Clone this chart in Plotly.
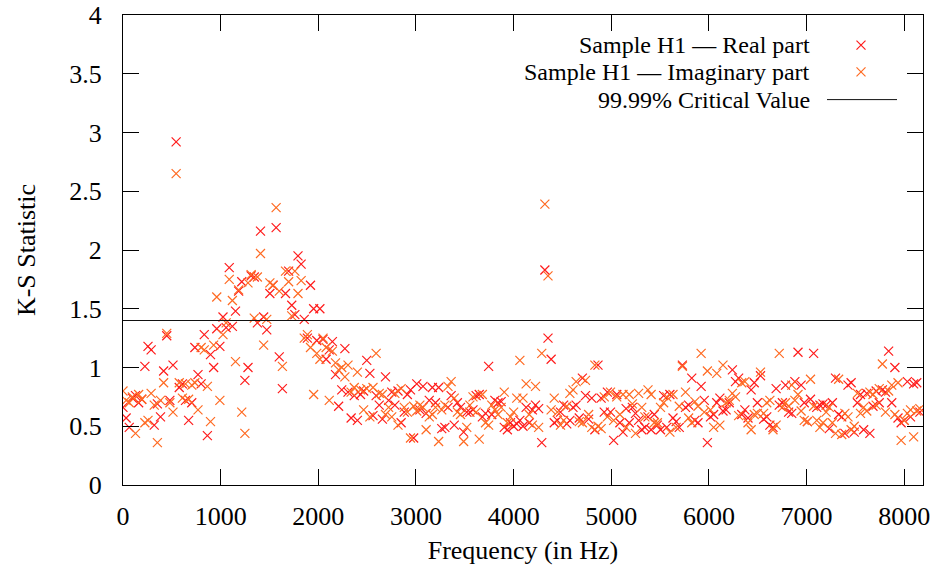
import plotly.graph_objects as go

# Frequency bins (Hz): 256 bins, 32 Hz apart
FREQ_STEP = 32
N_BINS = 256
freqs = [k * FREQ_STEP for k in range(N_BINS)]

real_part = [
    # 0 - 992 Hz
    0.66, 0.57, 0.49, 0.74, 0.76, 0.70, 0.73, 1.01, 1.18, 1.15, 0.51, 0.69, 0.58, 0.97, 1.27, 0.72,
    1.02, 2.92, 0.83, 0.86, 0.72, 0.55, 0.70, 1.17, 0.94, 0.86, 1.28, 0.42, 1.11, 1.00, 1.33, 1.18,
    # 1024 - 2016 Hz
    1.43, 1.34, 1.85, 1.35, 1.48, 1.65, 1.73, 0.89, 1.00, 1.78, 1.77, 1.38, 2.16, 1.43, 1.32, 1.63,
    1.70, 2.19, 1.09, 0.82, 1.63, 1.82, 1.53, 1.45, 1.95, 1.88, 1.41, 1.25, 1.70, 1.50, 1.23, 1.50,
    # 2048 - 3040 Hz
    1.24, 1.07, 1.15, 1.22, 0.94, 0.67, 0.81, 1.16, 0.79, 0.57, 0.76, 0.55, 0.77, 0.80, 1.06, 0.95,
    0.59, 0.76, 0.68, 0.56, 0.92, 0.72, 0.79, 0.68, 0.80, 0.53, 0.62, 0.77, 0.81, 0.40, 0.86, 0.64,
    # 3072 - 4064 Hz
    0.84, 0.61, 0.72, 0.83, 0.70, 0.83, 0.48, 0.49, 0.66, 0.76, 0.51, 0.70, 0.66, 0.45, 0.62, 0.62,
    0.64, 0.76, 0.77, 0.58, 0.61, 1.01, 0.60, 0.72, 0.70, 0.71, 0.49, 0.47, 0.53, 0.50, 0.52, 0.55,
    # 4096 - 5088 Hz
    0.50, 0.66, 0.53, 0.64, 0.68, 0.65, 0.36, 1.83, 1.25, 1.07, 0.53, 0.55, 0.62, 0.68, 0.52, 0.55,
    0.66, 0.68, 0.57, 0.91, 0.76, 0.56, 0.74, 0.47, 1.02, 0.74, 0.62, 0.79, 0.62, 0.38, 0.77, 0.53,
    # 5120 - 6112 Hz
    0.45, 0.65, 0.53, 0.66, 0.61, 0.55, 0.47, 0.49, 0.58, 0.47, 0.60, 0.51, 0.47, 0.76, 0.49, 0.77,
    0.57, 0.54, 0.49, 1.02, 0.66, 0.68, 0.91, 0.55, 0.53, 0.84, 0.72, 0.36, 0.58, 0.60, 0.70, 0.74,
    # 6144 - 7136 Hz
    0.63, 0.64, 0.70, 0.98, 0.88, 0.91, 0.60, 0.64, 0.57, 0.81, 0.87, 0.70, 0.93, 0.56, 0.58, 0.51,
    0.49, 0.82, 0.68, 0.70, 0.85, 0.62, 0.61, 0.88, 1.13, 0.85, 0.70, 0.54, 0.73, 1.12, 0.66, 0.68,
    # 7168 - 8160 Hz
    0.69, 0.68, 0.48, 0.70, 0.91, 0.60, 0.58, 0.44, 0.85, 0.87, 0.45, 0.70, 0.77, 0.47, 0.78, 0.44,
    0.67, 0.80, 0.70, 0.81, 0.79, 1.14, 0.70, 1.00, 0.57, 0.53, 0.55, 0.88, 0.58, 0.86, 0.87, 0.62,
]

imag_part = [
    # 0 - 992 Hz
    0.80, 0.72, 0.70, 0.75, 0.44, 0.77, 0.73, 0.53, 0.55, 0.78, 0.68, 0.36, 0.72, 0.87, 1.29, 0.70,
    0.62, 2.65, 0.87, 0.74, 0.86, 0.73, 0.85, 0.87, 0.64, 1.17, 1.15, 0.84, 0.54, 1.19, 1.60, 0.72,
    # 1024 - 2016 Hz
    1.28, 1.38, 1.75, 1.57, 1.05, 1.66, 0.62, 0.44, 1.72, 1.79, 1.42, 1.77, 1.97, 1.19, 1.41, 1.72,
    1.70, 2.36, 1.65, 1.01, 1.82, 1.73, 1.44, 1.82, 1.63, 1.74, 1.25, 1.28, 1.17, 0.77, 1.12, 1.07,
    # 2048 - 3040 Hz
    1.25, 1.17, 0.72, 1.14, 1.04, 0.98, 1.00, 0.92, 1.02, 0.79, 0.83, 0.96, 0.81, 0.64, 0.82, 0.58,
    0.83, 1.12, 0.78, 0.77, 0.60, 0.66, 0.58, 0.78, 0.51, 0.82, 0.66, 0.62, 0.40, 0.67, 0.63, 0.68,
    # 3072 - 4064 Hz
    0.66, 0.47, 0.58, 0.60, 0.66, 0.37, 0.64, 0.68, 0.84, 0.88, 0.74, 0.62, 0.60, 0.37, 0.49, 0.68,
    0.75, 0.62, 0.39, 0.77, 0.53, 0.51, 0.68, 0.64, 0.60, 0.66, 0.79, 0.53, 0.58, 0.62, 0.74, 1.06,
    # 4096 - 5088 Hz
    0.74, 0.86, 0.60, 0.51, 0.84, 0.49, 1.12, 2.39, 1.78, 0.64, 0.74, 0.62, 0.51, 0.55, 0.67, 0.78,
    0.81, 0.88, 0.54, 0.53, 0.89, 0.60, 0.49, 1.02, 0.50, 0.48, 0.75, 0.58, 0.79, 0.55, 0.75, 0.60,
    # 5120 - 6112 Hz
    0.77, 0.49, 0.77, 0.69, 0.44, 0.78, 0.66, 0.58, 0.81, 0.77, 0.53, 0.53, 0.66, 0.70, 0.75, 0.45,
    0.77, 0.49, 0.67, 1.01, 0.79, 0.57, 0.53, 0.71, 0.67, 1.12, 0.62, 0.97, 0.64, 0.49, 0.95, 0.51,
    # 6144 - 7136 Hz
    1.02, 0.70, 0.72, 0.78, 0.75, 0.59, 0.87, 0.88, 0.53, 0.47, 0.60, 0.61, 0.96, 0.61, 0.70, 0.72,
    0.47, 0.51, 1.12, 0.66, 0.70, 0.67, 0.85, 0.72, 0.77, 0.63, 0.55, 0.54, 0.90, 0.67, 0.55, 0.49,
    # 7168 - 8160 Hz
    0.53, 0.62, 0.66, 0.53, 0.44, 0.90, 0.43, 0.61, 0.58, 0.47, 0.50, 0.78, 0.61, 0.66, 0.63, 0.79,
    0.77, 0.68, 0.82, 1.03, 0.62, 0.80, 0.85, 0.60, 0.87, 0.38, 0.55, 0.61, 0.64, 0.41, 0.63, 0.65,
]

critical_value = 1.40
x_range = [0, 8192]
y_range = [0, 4]
x_ticks = [0, 1000, 2000, 3000, 4000, 5000, 6000, 7000, 8000]
y_ticks = [0, 0.5, 1, 1.5, 2, 2.5, 3, 3.5, 4]
y_tick_text = ["0", "0.5", "1", "1.5", "2", "2.5", "3", "3.5", "4"]

series_names = ["Sample H1 — Real part", "Sample H1 — Imaginary part", "99.99% Critical Value"]
RED = "#ff1c1c"
ORANGE = "#ff6a22"
FONT = "Liberation Serif"
FS = 26
LEG_FS = 24

fig = go.Figure()

fig.add_trace(go.Scatter(
    x=freqs, y=real_part, mode="markers", name=series_names[0], showlegend=False,
    marker=dict(symbol="x-thin", size=9, line=dict(color=RED, width=1.2), color=RED),
    cliponaxis=True,
))
fig.add_trace(go.Scatter(
    x=freqs, y=imag_part, mode="markers", name=series_names[1], showlegend=False,
    marker=dict(symbol="x-thin", size=9, line=dict(color=ORANGE, width=1.2), color=ORANGE),
    cliponaxis=True,
))
fig.add_trace(go.Scatter(
    x=x_range, y=[critical_value, critical_value], mode="lines", name=series_names[2],
    showlegend=False, line=dict(color="#111111", width=1),
))

# Custom legend (symbol on the right of right-aligned text, gnuplot style)
leg_rows = [0.936, 0.879, 0.820]
leg_text_x = 0.86
leg_sym_x = 0.9225
leg_line = [0.88, 0.9675]
fig.add_trace(go.Scatter(
    x=[leg_sym_x], y=[leg_rows[0]], xaxis="x2", yaxis="y2", mode="markers", showlegend=False,
    hoverinfo="skip",
    marker=dict(symbol="x-thin", size=9, line=dict(color=RED, width=1.2), color=RED),
))
fig.add_trace(go.Scatter(
    x=[leg_sym_x], y=[leg_rows[1]], xaxis="x2", yaxis="y2", mode="markers", showlegend=False,
    hoverinfo="skip",
    marker=dict(symbol="x-thin", size=9, line=dict(color=ORANGE, width=1.2), color=ORANGE),
))
fig.add_trace(go.Scatter(
    x=leg_line, y=[leg_rows[2], leg_rows[2]], xaxis="x2", yaxis="y2", mode="lines",
    showlegend=False, hoverinfo="skip", line=dict(color="#111111", width=1),
))
for name, yy in zip(series_names, leg_rows):
    fig.add_annotation(
        x=leg_text_x, y=yy, xref="paper", yref="paper", text=name, showarrow=False,
        xanchor="right", yanchor="middle", borderpad=0,
        font=dict(family=FONT, size=LEG_FS, color="black"),
    )

axis_common = dict(
    showline=True, linecolor="black", linewidth=1.3, mirror="ticks",
    ticks="inside", ticklen=16, tickwidth=1.3, tickcolor="black",
    showgrid=False, zeroline=False, automargin=False,
    tickfont=dict(family=FONT, size=FS, color="black"),
)

fig.update_layout(
    width=940, height=569,
    margin=dict(l=123, r=17, t=15, b=84),
    plot_bgcolor="white", paper_bgcolor="white",
    xaxis=dict(range=x_range, tickvals=x_ticks, ticklabelstandoff=8,
               title=dict(text="Frequency (in Hz)", font=dict(family=FONT, size=FS, color="black"),
                          standoff=10),
               **axis_common),
    yaxis=dict(range=y_range, tickvals=y_ticks, ticktext=y_tick_text, ticklabelstandoff=15,
               title=dict(text="K-S Statistic", font=dict(family=FONT, size=FS, color="black"),
                          standoff=26),
               **axis_common),
    xaxis2=dict(overlaying="x", range=[0, 1], visible=False, fixedrange=True),
    yaxis2=dict(overlaying="y", range=[0, 1], visible=False, fixedrange=True),
    showlegend=False,
)

fig.write_html("out.html")
